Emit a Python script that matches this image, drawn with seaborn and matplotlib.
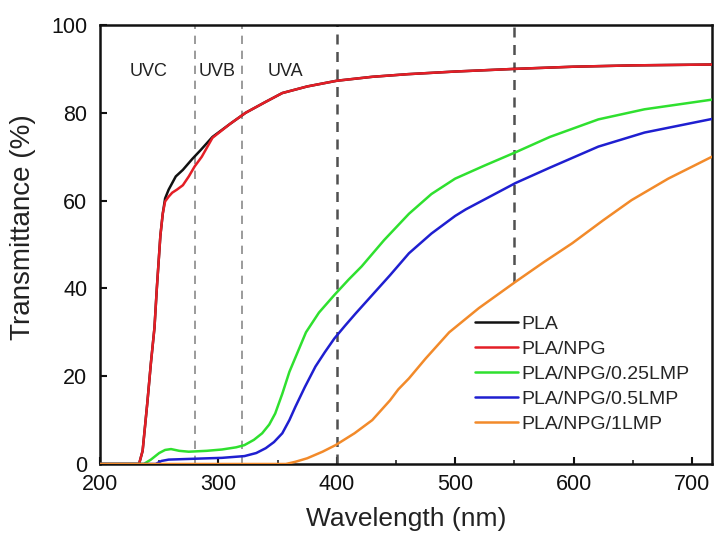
import matplotlib
matplotlib.use("Agg")
import matplotlib.pyplot as plt
import matplotlib.ticker as mticker
import seaborn as sns
import pandas as pd
import numpy as np

# ---- data ----
series_names = ["PLA", "PLA/NPG", "PLA/NPG/0.25LMP", "PLA/NPG/0.5LMP", "PLA/NPG/1LMP"]

pla_wl = [200, 233, 236, 240, 243, 246, 248, 251, 253, 255, 258, 264, 270, 278, 285, 295,
          310, 323, 340, 354, 375, 400, 430, 460, 500, 550, 600, 650, 717]
pla_t = [0, 0, 3, 14, 23, 31, 40, 52, 57, 60.5, 62.5, 65.5, 67, 69.5, 71.5, 74.5,
         77.5, 80, 82.5, 84.5, 86, 87.3, 88.2, 88.8, 89.4, 90, 90.5, 90.8, 91]

npg_wl = [200, 233, 236, 240, 243, 246, 248, 251, 253, 255, 258, 261, 265, 270, 275, 280,
          286, 295, 310, 323, 340, 354, 375, 400, 430, 460, 500, 550, 600, 650, 717]
npg_t = [0, 0, 3, 14, 23, 31, 40, 52, 57, 59.8, 60.9, 61.8, 62.5, 63.5, 65.5, 67.8,
         70, 74.3, 77.5, 80, 82.5, 84.5, 86, 87.3, 88.2, 88.8, 89.4, 90, 90.5, 90.8, 91]

g_wl = [200, 237, 243, 250, 255, 260, 267, 275, 290, 303, 315, 322, 330, 337, 343, 348,
        354, 360, 367, 374, 385, 398, 410, 421, 440, 461, 480, 500, 525, 551, 580, 621,
        660, 717]
g_t = [0, 0, 1, 2.5, 3.2, 3.4, 3.0, 2.8, 3.0, 3.3, 3.8, 4.3, 5.5, 7, 9, 11.5,
       16, 21, 25.5, 30, 34.5, 38.5, 42, 45, 51, 57, 61.5, 65, 68, 71, 74.5, 78.5,
       80.8, 83]

b_wl = [200, 247, 252, 258, 280, 303, 322, 332, 340, 347, 354, 360, 365, 373, 382, 390,
        398, 407, 416, 430, 445, 461, 480, 500, 509, 530, 551, 580, 621, 660, 717]
b_t = [0, 0, 0.7, 1.0, 1.2, 1.4, 1.8, 2.5, 3.6, 5, 7, 10, 13, 17.5, 22.2, 25.5,
       28.6, 31.5, 34.3, 38.5, 43, 48, 52.5, 56.5, 58, 61, 64, 67.5, 72.3, 75.5, 78.6]

o_wl = [200, 357, 365, 375, 388, 399, 415, 430, 445, 452, 461, 475, 495, 520, 551,
        575, 599, 625, 649, 680, 717]
o_t = [0, 0, 0.5, 1.3, 2.8, 4.3, 7, 10, 14.5, 17, 19.5, 24, 30, 35.5, 41.5,
       46, 50.3, 55.5, 60.1, 65, 70]

band_lines_light = [280, 320]
band_lines_dark = [400, 550]
band_labels = ["UVC", "UVB", "UVA"]
band_label_x = [241, 299, 357]

x_ticks = [200, 300, 400, 500, 600, 700]
y_ticks = [0, 20, 40, 60, 80, 100]

colors = ["#111111", "#e41e26", "#2fe02f", "#1f1fd0", "#f28a2a"]

# ---- build table ----
frames = []
for name, wl, t in zip(series_names,
                       [pla_wl, npg_wl, g_wl, b_wl, o_wl],
                       [pla_t, npg_t, g_t, b_t, o_t]):
    frames.append(pd.DataFrame({"wl": wl, "T": t, "sample": name}))
df = pd.concat(frames, ignore_index=True)

sns.set_theme(style="ticks")
plt.rcParams["font.family"] = ["Liberation Sans", "DejaVu Sans"]

fig = plt.figure(figsize=(7.14, 5.37), dpi=100)
ax = fig.add_axes([100 / 714, 1 - 464 / 537, 612 / 714, 439 / 537])

# vertical band lines
for xv in band_lines_light:
    ax.axvline(xv, color="#8a8a8a", lw=1.2, ls=(0, (5, 4)), zorder=1)
ax.axvline(band_lines_dark[0], color="#505050", lw=1.8, ls=(0, (4, 3)), zorder=1)
ax.plot([band_lines_dark[1], band_lines_dark[1]], [o_t[o_wl.index(551)], 100],
        color="#505050", lw=1.8, ls=(0, (4, 3)), zorder=1)

sns.lineplot(data=df, x="wl", y="T", hue="sample", hue_order=series_names,
             palette=dict(zip(series_names, colors)), estimator=None,
             linewidth=1.8, ax=ax, zorder=3)

for lab, xl in zip(band_labels, band_label_x):
    ax.text(xl, 89.3, lab, ha="center", va="center", fontsize=13, color="#222222")

ax.set_xlim(200, 717)
ax.set_ylim(0, 100)
ax.set_xticks(x_ticks)
ax.set_yticks(y_ticks)
ax.xaxis.set_minor_locator(mticker.MultipleLocator(50))
ax.tick_params(axis="both", which="major", direction="in", length=5, width=1.5,
               labelsize=15.5, colors="#111111", pad=7)
ax.tick_params(axis="x", which="minor", direction="in", length=3, width=1.2)
ax.tick_params(axis="y", pad=9)
for sp in ax.spines.values():
    sp.set_visible(True)
    sp.set_linewidth(1.8)
    sp.set_color("#111111")

ax.set_xlabel("Wavelength (nm)", fontsize=19, color="#222222")
ax.set_ylabel("Transmittance (%)", fontsize=20, color="#222222")
ax.xaxis.set_label_coords(0.5, -0.097)
ax.yaxis.set_label_coords(-0.104, 0.54)

leg = ax.legend(loc="center left", bbox_to_anchor=(0.613, 0.205), frameon=False,
                fontsize=14, handlelength=2.2, handletextpad=0.2, labelspacing=0.38,
                borderpad=0, borderaxespad=0)
for h in leg.get_lines():
    h.set_linewidth(1.8)

fig.savefig("out.png", dpi=100)
